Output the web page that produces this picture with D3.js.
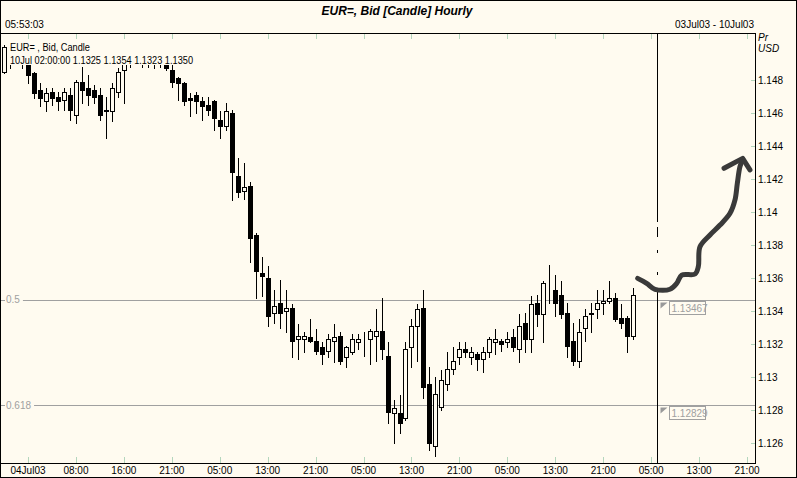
<!DOCTYPE html>
<html><head><meta charset="utf-8">
<script src="https://cdn.jsdelivr.net/npm/d3@7"></script>
<style>html,body{margin:0;padding:0;background:#fffbf0;}svg{display:block}</style>
</head><body><svg id="c" width="797" height="478"></svg>
<script>
// Hourly candles, 03Jul03 20:00 (index 0) .. 10Jul03 02:00 (index 105), trading hours only
const openP=[1.1485,1.1499,1.1495,1.1493,1.1489,1.1484,1.1474,1.1467,1.1473,1.1470,
1.1468,1.1471,1.1459,1.1479,1.1475,1.1474,1.1471,1.1462,1.1461,1.1473,
1.1486,1.1496,1.1498,1.1494,1.1495,1.1493,1.1495,1.1489,1.1486,1.1481,
1.1478,1.1469,1.1471,1.1467,1.1465,1.1467,1.1456,1.1452,1.1460,1.1422,
1.1413,1.1416,1.1386,1.1363,1.1360,1.1339,1.1345,1.1340,1.1342,1.1323,
1.1323,1.1324,1.1322,1.1318,1.1316,1.1322,1.1325,1.1312,1.1315,1.1321,
1.1324,1.1323,1.1325,1.1328,1.1313,1.1278,1.1278,1.1275,1.1318,1.1331,
1.1342,1.1296,1.1258,1.1282,1.1296,1.1305,1.1312,1.1317,1.1312,1.1314,
1.1311,1.1315,1.1321,1.1322,1.1321,1.1324,1.1317,1.1333,1.1323,1.1345,
1.1338,1.1353,1.1353,1.1350,1.1339,1.1322,1.1310,1.1330,1.1338,1.1341,
1.1345,1.1346,1.1348,1.1336,1.1336,1.1325];
const highP=[1.1501,1.1503,1.1500,1.1498,1.1491,1.1485,1.1478,1.1475,1.1475,1.1473,
1.1475,1.1475,1.1480,1.1488,1.1483,1.1477,1.1475,1.1470,1.1478,1.1487,
1.1499,1.1502,1.1503,1.1499,1.1500,1.1497,1.1499,1.1493,1.1490,1.1482,
1.1479,1.1472,1.1473,1.1470,1.1470,1.1468,1.1461,1.1466,1.1462,1.1433,
1.1430,1.1418,1.1387,1.1373,1.1367,1.1353,1.1359,1.1353,1.1344,1.1332,
1.1327,1.1335,1.1329,1.1321,1.1326,1.1332,1.1327,1.1319,1.1326,1.1326,
1.1327,1.1329,1.1341,1.1348,1.1321,1.1286,1.1289,1.1321,1.1335,1.1344,
1.1353,1.1306,1.1300,1.1304,1.1315,1.1318,1.1321,1.1321,1.1318,1.1315,
1.1318,1.1324,1.1329,1.1323,1.1327,1.1329,1.1338,1.1339,1.1349,1.1350,
1.1358,1.1368,1.1362,1.1358,1.1345,1.1333,1.1335,1.1341,1.1345,1.1353,
1.1353,1.1358,1.1351,1.1344,1.1337,1.1354];
const lowP=[1.1484,1.1487,1.1490,1.1487,1.1478,1.1469,1.1464,1.1461,1.1465,1.1462,
1.1462,1.1456,1.1454,1.1466,1.1465,1.1466,1.1456,1.1445,1.1455,1.1470,
1.1466,1.1488,1.1490,1.1488,1.1488,1.1487,1.1488,1.1486,1.1476,1.1468,
1.1465,1.1458,1.1460,1.1456,1.1459,1.1450,1.1445,1.1450,1.1407,1.1409,
1.1408,1.1370,1.1348,1.1349,1.1331,1.1333,1.1330,1.1327,1.1312,1.1311,
1.1315,1.1321,1.1314,1.1308,1.1312,1.1309,1.1308,1.1306,1.1314,1.1317,
1.1313,1.1308,1.1310,1.1311,1.1272,1.1260,1.1266,1.1274,1.1306,1.1310,
1.1287,1.1256,1.1252,1.1280,1.1292,1.1302,1.1308,1.1312,1.1308,1.1304,
1.1303,1.1312,1.1314,1.1316,1.1318,1.1316,1.1309,1.1315,1.1315,1.1331,
1.1321,1.1345,1.1337,1.1336,1.1312,1.1307,1.1306,1.1322,1.1327,1.1336,
1.1338,1.1345,1.1334,1.1330,1.1315,1.1323];
const closeP=[1.1500,1.1495,1.1493,1.1491,1.1483,1.1472,1.1469,1.1472,1.1469,1.1467,
1.1473,1.1462,1.1479,1.1474,1.1471,1.1470,1.1459,1.1461,1.1475,1.1485,
1.1496,1.1498,1.1494,1.1495,1.1493,1.1495,1.1492,1.1487,1.1479,1.1478,
1.1467,1.1468,1.1467,1.1464,1.1462,1.1457,1.1452,1.1461,1.1424,1.1412,
1.1415,1.1384,1.1364,1.1361,1.1337,1.1343,1.1339,1.1342,1.1322,1.1325,
1.1325,1.1322,1.1316,1.1314,1.1323,1.1324,1.1310,1.1318,1.1323,1.1323,
1.1324,1.1328,1.1328,1.1317,1.1279,1.1281,1.1272,1.1317,1.1331,1.1341,
1.1294,1.1260,1.1290,1.1298,1.1305,1.1310,1.1317,1.1315,1.1315,1.1311,
1.1315,1.1323,1.1323,1.1320,1.1323,1.1318,1.1331,1.1323,1.1344,1.1338,
1.1357,1.1353,1.1345,1.1338,1.1319,1.1310,1.1327,1.1337,1.1339,1.1345,
1.1346,1.1348,1.1335,1.1333,1.1325,1.1350];

const xTickIndex=[4,12,20,28,36,44,52,60,68,76,84,92,100,108,116,124];
const xTickLabels=["04Jul03","08:00","16:00","21:00","05:00","13:00","21:00","05:00","13:00","21:00","05:00","13:00","21:00","05:00","13:00","21:00"];
const yTickValues=[1.126,1.128,1.13,1.132,1.134,1.136,1.138,1.14,1.142,1.144,1.146,1.148];
const fibLabels=["0.5","0.618"];
const fibPrices=[1.13467,1.12829];
const nowIndex=109;
const arrowIdx=[105.75,107.25,108.64,111.14,112.26,113.1,115.32,115.87,116.15,117.82,119.49,121.16,121.99,122.38,122.82,123.27];
const arrowPrice=[1.13598,1.13568,1.13532,1.13532,1.13568,1.13618,1.13624,1.13669,1.13790,1.13861,1.13921,1.13992,1.14073,1.14174,1.14275,1.14319];
const headIdx=[120.16,123.27,124.49];
const headPrice=[1.14265,1.14325,1.14255];
const legendLines=["EUR= , Bid, Candle","10Jul 02:00:00 1.1325 1.1354 1.1323 1.1350"];
const titleText="EUR=, Bid [Candle] Hourly";
const timeText="05:53:03";
const rangeText="03Jul03 - 10Jul03";
const unitLines=["Pr","USD"];

const BG="#fffbf0", TICK="#b4d6bd", GRAY="#a0a0a0";
const L=2,R=755,T=33,B=464;
const svg=d3.select("#c").style("font-family","'Liberation Sans', Arial, sans-serif");
const x=d3.scaleLinear().domain([-0.34,125.33]).range([L,R]);
const y=d3.scaleLinear().domain([1.12473,1.15085]).range([B,T]);
const px=v=>Math.round(x(v))+0.5;
const py=v=>Math.round(y(v))+0.5;

svg.append("rect").attr("width",797).attr("height",478).attr("fill",BG);

// title & header
svg.append("text").attr("x",397).attr("y",15).attr("text-anchor","middle")
  .attr("font-size",12).attr("font-weight","bold").attr("font-style","italic").text(titleText);
svg.append("text").attr("x",5).attr("y",28).attr("font-size",10).text(timeText);
svg.append("text").attr("x",754).attr("y",28).attr("text-anchor","end").attr("font-size",10).text(rangeText);

// ticks (top and bottom)
const gx=svg.append("g");
xTickIndex.forEach((d,i)=>{
  const xx=px(d);
  gx.append("line").attr("x1",xx).attr("x2",xx).attr("y1",T+1).attr("y2",T+6).attr("stroke",TICK);
  gx.append("line").attr("x1",xx).attr("x2",xx).attr("y1",B-7).attr("y2",B).attr("stroke",TICK);
  gx.append("text").attr("x",x(d)).attr("y",474).attr("text-anchor","middle").attr("font-size",10).text(xTickLabels[i]);
});
// y axis ticks
yTickValues.forEach(v=>{
  const yy=py(v);
  svg.append("line").attr("x1",R-4).attr("x2",R).attr("y1",yy).attr("y2",yy).attr("stroke",TICK);
  svg.append("text").attr("x",758).attr("y",y(v)+3.5).attr("font-size",10).text(String(+v.toFixed(3)));
});
unitLines.forEach((t,i)=>svg.append("text").attr("x",758).attr("y",41+i*11).attr("font-size",10)
  .attr("font-style","italic").text(t));

// fib lines
fibPrices.forEach((p,i)=>{
  const yy=py(p);
  svg.append("line").attr("x1",1).attr("x2",5).attr("y1",yy).attr("y2",yy).attr("stroke",GRAY);
  const t=svg.append("text").attr("x",6).attr("y",y(p)+3.5).attr("font-size",10).attr("fill",GRAY).text(fibLabels[i]);
  const w=t.node().getComputedTextLength();
  svg.append("line").attr("x1",6+w+3).attr("x2",R).attr("y1",yy).attr("y2",yy).attr("stroke",GRAY);
});

// candles
const idx=d3.range(openP.length);
const gc=svg.append("g");
gc.selectAll("line.w").data(idx).join("line")
  .attr("x1",i=>px(i)).attr("x2",i=>px(i))
  .attr("y1",i=>Math.round(y(highP[i]))).attr("y2",i=>Math.round(y(lowP[i]))+1)
  .attr("stroke","#000");
gc.selectAll("rect.b").data(idx).join("rect")
  .attr("x",i=>Math.round(x(i))-2+0.5)
  .attr("width",4)
  .attr("y",i=>Math.round(y(Math.max(openP[i],closeP[i])))+0.5)
  .attr("height",i=>Math.max(0,Math.round(y(Math.min(openP[i],closeP[i])))-Math.round(y(Math.max(openP[i],closeP[i])))))
  .attr("fill",i=>closeP[i]<openP[i]?"#000":BG)
  .attr("stroke","#000");

// legend (covers candles beneath)
svg.append("rect").attr("x",8).attr("y",40).attr("width",188).attr("height",25).attr("fill",BG);
svg.append("text").attr("x",10).attr("y",51).attr("font-size",10).attr("textLength",80).attr("lengthAdjust","spacingAndGlyphs").text(legendLines[0]);
svg.append("text").attr("x",10).attr("y",63.5).attr("font-size",10).attr("textLength",183).attr("lengthAdjust","spacingAndGlyphs").text(legendLines[1]);

// frame
svg.append("line").attr("x1",0).attr("x2",R+1).attr("y1",T+0.5).attr("y2",T+0.5).attr("stroke","#000");
svg.append("line").attr("x1",0).attr("x2",R+1).attr("y1",B-0.5).attr("y2",B-0.5).attr("stroke","#000");
svg.append("line").attr("x1",R+0.5).attr("x2",R+0.5).attr("y1",T).attr("y2",B).attr("stroke","#000");
svg.append("rect").attr("x",0.5).attr("y",0.5).attr("width",796).attr("height",477).attr("fill","none").attr("stroke","#000");

// now line (broken where the pen mark crosses)
const nx=px(nowIndex);
svg.append("line").attr("x1",nx).attr("x2",nx).attr("y1",T).attr("y2",B)
  .attr("stroke","#000").attr("stroke-dasharray","189,5,10,13,3,19,3,14,200");

// price boxes for fib levels
fibPrices.forEach(p=>{
  const top=Math.round(y(p))+1.5, bx=Math.round(x(nowIndex))+12.5;
  svg.append("path").attr("d",`M${bx-9},${top+1}L${bx-2},${top+1}L${bx-9},${top+7}Z`).attr("fill","#999");
  svg.append("rect").attr("x",bx).attr("y",top).attr("width",36).attr("height",13).attr("fill",BG).attr("stroke",GRAY);
  svg.append("text").attr("x",bx+2).attr("y",top+10.5).attr("font-size",10).attr("fill",GRAY).text(p.toFixed(5));
});

// hand-drawn arrow
const line=d3.line().x(d=>x(d[0])).y(d=>y(d[1])).curve(d3.curveCatmullRom.alpha(0.5));
const headLine=d3.line().x(d=>x(d[0])).y(d=>y(d[1]));
svg.append("path").attr("d",line(arrowIdx.map((d,i)=>[d,arrowPrice[i]])))
  .attr("fill","none").attr("stroke","#3a3a3a").attr("stroke-width",5).attr("stroke-linecap","round").attr("stroke-linejoin","round");
svg.append("path").attr("d",headLine(headIdx.map((d,i)=>[d,headPrice[i]])))
  .attr("fill","none").attr("stroke","#3a3a3a").attr("stroke-width",5).attr("stroke-linecap","round").attr("stroke-linejoin","round");
</script></body></html>
